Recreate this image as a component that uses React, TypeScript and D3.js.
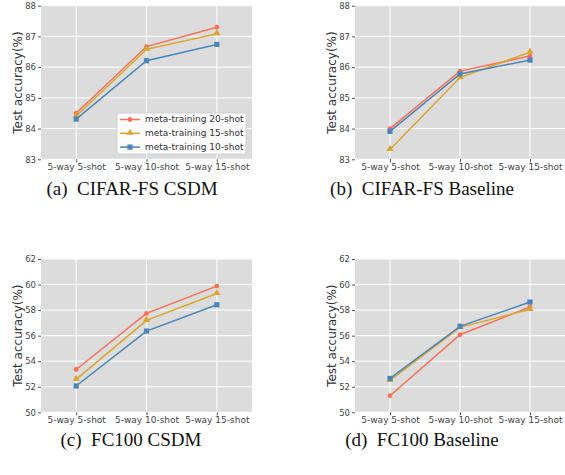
import React, { useRef, useEffect } from 'react';
import * as d3 from 'd3';

// x categories and legend entries
const categories = ['5-way 5-shot', '5-way 10-shot', '5-way 15-shot'];
const seriesNames = ['meta-training 20-shot', 'meta-training 15-shot', 'meta-training 10-shot'];
const seriesColors = ['#fa6f55', '#dca52b', '#4a85bc'];
const seriesMarkers = ['circle', 'triangle', 'square'];

// (a) CIFAR-FS CSDM
const cifarCsdm20 = [84.5, 86.67, 87.3];
const cifarCsdm15 = [84.4, 86.58, 87.09];
const cifarCsdm10 = [84.31, 86.21, 86.74];
// (b) CIFAR-FS Baseline
const cifarBase20 = [84.0, 85.87, 86.36];
const cifarBase15 = [83.32, 85.66, 86.49];
const cifarBase10 = [83.91, 85.78, 86.23];
// (c) FC100 CSDM
const fcCsdm20 = [53.35, 57.75, 59.88];
const fcCsdm15 = [52.58, 57.2, 59.3];
const fcCsdm10 = [52.06, 56.36, 58.42];
// (d) FC100 Baseline
const fcBase20 = [51.3, 56.07, 58.24];
const fcBase15 = [52.5, 56.65, 58.06];
const fcBase10 = [52.65, 56.73, 58.63];

const cifarTicks = [83, 84, 85, 86, 87, 88];
const fcTicks = [50, 52, 54, 56, 58, 60, 62];

const panels = [
    { caption: '(a)  CIFAR-FS CSDM', series: [cifarCsdm20, cifarCsdm15, cifarCsdm10], ticks: cifarTicks, box: [41, 5.7, 252, 159.3], labelX: 18, capX: 132, capY: 191, legend: true },
    { caption: '(b)  CIFAR-FS Baseline', series: [cifarBase20, cifarBase15, cifarBase10], ticks: cifarTicks, box: [355, 5.7, 565, 159.3], labelX: 332, capX: 422, capY: 191, legend: false },
    { caption: '(c)  FC100 CSDM', series: [fcCsdm20, fcCsdm15, fcCsdm10], ticks: fcTicks, box: [41, 259, 252, 412.3], labelX: 18, capX: 131, capY: 442, legend: false },
    { caption: '(d)  FC100 Baseline', series: [fcBase20, fcBase15, fcBase10], ticks: fcTicks, box: [355, 259, 565, 412.3], labelX: 332, capX: 422, capY: 442, legend: false },
];

const font = 'DejaVu Sans, sans-serif';

const drawMarker = (g, kind, x, y, color) => {
    if (kind === 'circle') {
        g.append('circle').attr('cx', x).attr('cy', y).attr('r', 2.4).attr('fill', color);
    } else if (kind === 'triangle') {
        g.append('path')
            .attr('d', d3.symbol().type(d3.symbolTriangle).size(22)())
            .attr('transform', `translate(${x},${y - 0.5})`)
            .attr('fill', color);
    } else {
        g.append('rect').attr('x', x - 2.6).attr('y', y - 2.6).attr('width', 5.2).attr('height', 5.2).attr('fill', color);
    }
};

const App = () => {
    const ref = useRef(null);

    useEffect(() => {
        const svg = d3.select(ref.current);
        svg.selectAll('*').remove();

        panels.forEach(p => {
            const [x0, y0, x1, y1] = p.box;
            const g = svg.append('g');

            const x = d3.scalePoint().domain(categories).range([x0, x1]).padding(0.5);
            const y = d3.scaleLinear().domain([p.ticks[0], p.ticks[p.ticks.length - 1]]).range([y1, y0]);

            // --- background + grid ---
            g.append('rect').attr('x', x0).attr('y', y0).attr('width', x1 - x0).attr('height', y1 - y0).attr('fill', '#dcdcdc');
            g.selectAll('.hgrid').data(p.ticks).enter().append('line')
                .attr('x1', x0).attr('x2', x1)
                .attr('y1', d => y(d)).attr('y2', d => y(d))
                .attr('stroke', '#fff').attr('stroke-width', 1);
            g.selectAll('.vgrid').data(categories).enter().append('line')
                .attr('x1', d => x(d)).attr('x2', d => x(d))
                .attr('y1', y0).attr('y2', y1)
                .attr('stroke', '#fff').attr('stroke-width', 1);

            // --- axes ---
            const yAxis = g.append('g')
                .attr('transform', `translate(${x0},0)`)
                .call(d3.axisLeft(y).tickValues(p.ticks).tickFormat(d3.format('d')).tickSize(3).tickPadding(2))
                .call(a => a.select('.domain').remove());
            yAxis.selectAll('line').attr('stroke', '#555');
            yAxis.selectAll('text').style('fill', '#444').style('font-family', font).style('font-size', '8.5px');

            const xAxis = g.append('g')
                .attr('transform', `translate(0,${y1})`)
                .call(d3.axisBottom(x).tickSize(3).tickPadding(1.5))
                .call(a => a.select('.domain').remove());
            xAxis.selectAll('line').attr('stroke', '#555');
            xAxis.selectAll('text').style('fill', '#444').style('font-family', font).style('font-size', '9px');

            g.append('text')
                .attr('transform', `translate(${p.labelX},${(y0 + y1) / 2}) rotate(-90)`)
                .attr('text-anchor', 'middle')
                .attr('dominant-baseline', 'middle')
                .style('font-family', font).style('font-size', '12px').style('fill', '#333')
                .text('Test accuracy(%)');

            // --- lines + markers ---
            p.series.forEach((vals, i) => {
                const line = d3.line().x((d, j) => x(categories[j])).y(d => y(d));
                g.append('path').datum(vals)
                    .attr('fill', 'none').attr('stroke', seriesColors[i]).attr('stroke-width', 1.5)
                    .attr('d', line);
                vals.forEach((v, j) => drawMarker(g, seriesMarkers[i], x(categories[j]), y(v), seriesColors[i]));
            });

            // --- legend ---
            if (p.legend) {
                const lg = g.append('g').attr('transform', 'translate(117,113)');
                lg.append('rect').attr('width', 129).attr('height', 41).attr('rx', 2)
                    .attr('fill', '#fff').attr('fill-opacity', 0.9).attr('stroke', '#ccc').attr('stroke-width', 0.8);
                seriesNames.forEach((name, i) => {
                    const ry = 6.5 + i * 13.8;
                    lg.append('line').attr('x1', 3).attr('x2', 23).attr('y1', ry).attr('y2', ry)
                        .attr('stroke', seriesColors[i]).attr('stroke-width', 1.5);
                    drawMarker(lg, seriesMarkers[i], 13, ry, seriesColors[i]);
                    lg.append('text').attr('x', 28).attr('y', ry).attr('dominant-baseline', 'middle')
                        .style('font-family', font).style('font-size', '9px').style('fill', '#333')
                        .text(name);
                });
            }

            // --- caption ---
            svg.append('text')
                .attr('x', p.capX)
                .attr('y', p.capY)
                .attr('text-anchor', 'middle')
                .attr('dominant-baseline', 'middle')
                .style('font-family', 'Liberation Serif, Times New Roman, serif')
                .style('font-size', '19px').style('fill', '#111')
                .style('white-space', 'pre')
                .text(p.caption);
        });
    }, []);

    return (
        <div style={{ position: 'fixed', left: 0, top: 0, background: '#fff' }}>
            <svg ref={ref} width={565} height={475} style={{ display: 'block' }}></svg>
        </div>
    );
};

export default App;
